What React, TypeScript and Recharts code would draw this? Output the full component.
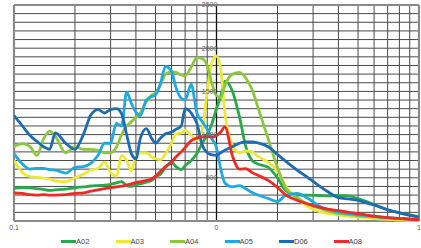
import React from 'react';
import { LineChart, Line, XAxis, YAxis, CartesianGrid, ReferenceLine, ReferenceDot, Legend } from 'recharts';

const FONT = '"Liberation Sans", Arial, sans-serif';

const freqs = [0.1, 0.11, 0.12, 0.13, 0.14, 0.15, 0.16, 0.18, 0.2, 0.22, 0.24, 0.26, 0.28, 0.3, 0.32, 0.34, 0.36, 0.38, 0.4, 0.42, 0.45, 0.48, 0.5, 0.53, 0.56, 0.6, 0.63, 0.67, 0.7, 0.75, 0.8, 0.85, 0.9, 0.95, 1.0, 1.05, 1.1, 1.2, 1.3, 1.4, 1.5, 1.6, 1.8, 2.0, 2.2, 2.5, 2.8, 3.2, 3.6, 4, 4.5, 5, 5.6, 6.3, 7, 8, 9, 10];

const A02 = [380, 385, 385, 375, 365, 355, 360, 370, 385, 395, 405, 410, 415, 425, 440, 455, 410, 400, 420, 430, 450, 470, 510, 545, 620, 680, 630, 595, 640, 700, 780, 900, 1000, 1130, 1300, 1450, 1620, 1500, 1200, 850, 700, 660, 620, 500, 350, 300, 300, 295, 290, 295, 290, 260, 220, 170, 130, 95, 70, 50];
const A03 = [700, 560, 515, 505, 495, 485, 465, 455, 500, 540, 590, 610, 680, 560, 520, 760, 700, 580, 760, 790, 790, 740, 720, 710, 780, 900, 1010, 1020, 1050, 990, 940, 1050, 1500, 1840, 1910, 1750, 1250, 870, 790, 810, 800, 750, 680, 580, 400, 260, 170, 110, 85, 70, 55, 45, 35, 25, 20, 12, 8, 5];
const A04 = [860, 895, 860, 760, 950, 1040, 980, 790, 860, 830, 830, 815, 790, 790, 850, 1000, 1100, 1150, 1200, 1250, 1380, 1460, 1480, 1580, 1700, 1730, 1720, 1690, 1680, 1780, 1890, 1880, 1800, 1590, 1450, 1430, 1570, 1700, 1720, 1650, 1520, 1320, 950, 620, 380, 270, 200, 150, 110, 85, 75, 60, 50, 40, 35, 28, 25, 20];
const A05 = [780, 660, 600, 610, 610, 595, 590, 555, 620, 630, 670, 760, 900, 900, 1130, 1100, 1490, 1360, 1260, 1220, 1400, 1440, 1460, 1600, 1790, 1730, 1550, 1420, 1400, 1580, 1250, 1150, 1060, 950, 850, 600, 440, 395, 410, 370, 330, 300, 260, 225, 300, 320, 270, 175, 130, 105, 85, 72, 62, 50, 40, 30, 20, 12];
const D06 = [1220, 1100, 990, 920, 860, 830, 1020, 900, 830, 1000, 1230, 1290, 1250, 1290, 1300, 1240, 1000, 780, 720, 950, 1070, 950, 900, 960, 1010, 1030, 1060, 1100, 1300, 1250, 1130, 880, 790, 765, 760, 790, 820, 860, 900, 915, 915, 905, 860, 770, 690, 590, 510, 410, 330, 270, 255, 240, 205, 170, 130, 95, 65, 45];
const A08 = [325, 320, 305, 300, 305, 300, 300, 305, 320, 325, 345, 360, 375, 385, 395, 405, 415, 430, 445, 455, 470, 490, 520, 575, 630, 680, 740, 800, 850, 930, 960, 975, 975, 970, 990, 1030, 1090, 750, 600, 605, 560, 530, 470, 390, 300, 240, 200, 160, 135, 120, 100, 85, 65, 50, 40, 30, 20, 15];

const xGridTicks = [0.1, 0.2, 0.3, 0.4, 0.5, 0.6, 0.7, 0.8, 0.9, 1, 2, 3, 4, 5, 6, 7, 8, 9, 10];
const xTickLabels: Record<string, string> = { '0.1': '0.1', '1': '0', '10': '1' };
const yGridTicks = [0, 100, 200, 300, 400, 500, 600, 700, 800, 900, 1000, 1100, 1200, 1300, 1400, 1500, 1600, 1700, 1800, 1900, 2000, 2100, 2200, 2300, 2400, 2500];
const yLabelTicks = [500, 1000, 1500, 2000, 2500];

const series = [
  { key: 'A02', name: 'A02', color: '#2BA84A', values: A02 },
  { key: 'A03', name: 'A03', color: '#ECE83A', values: A03 },
  { key: 'A04', name: 'A04', color: '#8DC63F', values: A04 },
  { key: 'A05', name: 'A05', color: '#1EA9E1', values: A05 },
  { key: 'D06', name: 'D06', color: '#1D6CB3', values: D06 },
  { key: 'A08', name: 'A08', color: '#EE2A24', values: A08 },
];

const data = freqs.map((f, i) => {
  const row: Record<string, number> = { f };
  series.forEach((s) => { row[s.key] = s.values[i]; });
  return row;
});

const renderLegend = () => (
  <div style={{ display: 'flex', alignItems: 'center', height: 14, paddingLeft: 61, fontFamily: FONT, fontSize: 7.5, color: '#444' }}>
    {series.map((s) => (
      <div key={s.key} style={{ width: 54.5, display: 'flex', alignItems: 'center' }}>
        <span style={{ display: 'inline-block', width: 15, height: 3, background: s.color }} />
        <span>{s.name}</span>
      </div>
    ))}
  </div>
);

export default function App() {
  return (
    <div style={{ position: 'absolute', left: 0, top: 0, width: 421, height: 248, background: '#fff' }}>
      <LineChart width={421} height={248} data={data} margin={{ top: 5, right: 2, left: 14, bottom: 0 }}>
        <CartesianGrid stroke="#4a4a4a" strokeWidth={1} />
        <XAxis
          dataKey="f"
          type="number"
          scale="log"
          domain={[0.1, 10]}
          ticks={xGridTicks}
          interval={0}
          allowDataOverflow
          axisLine={false}
          tickLine={false}
          tickSize={2}
          height={13}
          tick={{ fontSize: 7, fill: '#555', fontFamily: FONT }}
          tickFormatter={(v: number) => xTickLabels[String(v)] ?? ''}
        />
        <YAxis
          type="number"
          domain={[0, 2500]}
          ticks={yGridTicks}
          interval={0}
          width={0}
          axisLine={false}
          tickLine={false}
          tick={{ fontSize: 1, fill: 'none' }}
          tickFormatter={() => ''}
        />
        <ReferenceLine x={1} stroke="#111" strokeWidth={1.3} />
        <ReferenceLine x={0.1} stroke="#8a8a8a" strokeWidth={2.2} />
        <ReferenceLine x={10} stroke="#8a8a8a" strokeWidth={2.2} />
        <ReferenceLine y={0} stroke="#8a8a8a" strokeWidth={2.2} />
        <ReferenceLine y={2500} stroke="#8a8a8a" strokeWidth={2.2} />
        {series.map((s) => (
          <Line
            key={s.key}
            type="monotone"
            dataKey={s.key}
            name={s.name}
            stroke={s.color}
            strokeWidth={2.8}
            dot={false}
            isAnimationActive={false}
          />
        ))}
        {yLabelTicks.map((v) => (
          <ReferenceDot
            key={v}
            x={1}
            y={v}
            r={0.1}
            fill="none"
            stroke="none"
            label={{ value: String(v), position: 'left', offset: -1, fontSize: 7, fill: '#666', fontFamily: FONT }}
          />
        ))}
        <Legend verticalAlign="bottom" content={renderLegend} wrapperStyle={{ left: 0, width: 421 }} />
      </LineChart>
    </div>
  );
}
